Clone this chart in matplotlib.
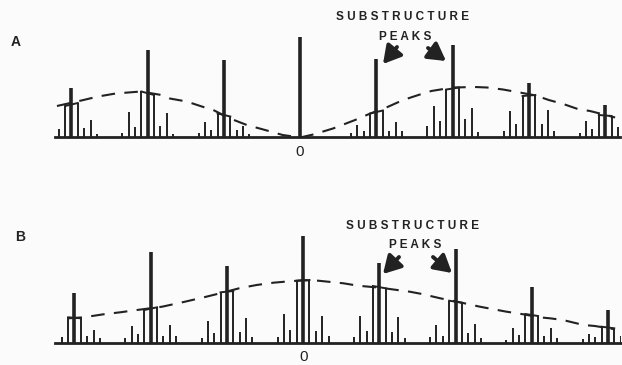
import numpy as np
import matplotlib
matplotlib.use("Agg")
import matplotlib.pyplot as plt

# diffraction orders (main reflections) and satellite index m (reflection at order + m/12)
orders = [-3, -2, -1, 0, 1, 2, 3, 4]
sat_index = [-4, -3, -2, -1, 0, 1, 2, 3, 4]

# intensities, one row per order, columns follow sat_index (0 = not drawn)
intens_a = [
    [0, 0, 8.5, 31.5, 49, 34.5, 9.5, 17, 3.5],
    [4.5, 25, 10, 46, 87.5, 42.5, 11.5, 24.5, 3.5],
    [4.5, 15, 7, 24, 77.5, 21, 7.5, 11, 3.5],
    [0, 0, 0, 0, 101, 0, 0, 0, 0],
    [4, 12.5, 6.5, 24, 79, 27, 6.5, 15, 6],
    [11, 31.5, 16, 48, 93, 50, 18, 29, 5],
    [6, 26.5, 13, 41.5, 55, 42.5, 13.5, 27.5, 6],
    [4, 16, 8.5, 22.5, 32.5, 21.5, 10, 0, 0],
]
intens_b = [
    [0, 0, 6.6, 26, 50.6, 25, 7.3, 13.3, 5],
    [5, 17.3, 9.3, 33.3, 91.6, 36, 7.3, 18.3, 7.3],
    [5, 22.6, 10, 51, 77.3, 52.3, 11.6, 25, 6],
    [6.6, 29.3, 13.3, 62.6, 107.3, 63.3, 12.6, 27.6, 7.3],
    [6.6, 27.3, 12.6, 57.3, 80.6, 55, 11.6, 26, 5],
    [6, 18.3, 7.3, 42.6, 94.3, 40.6, 10.6, 19.3, 5],
    [3.3, 15.6, 8.3, 29.3, 56, 27.3, 7.3, 15, 5],
    [4, 9.3, 6, 16.6, 33.3, 15, 7.3, 0, 0],
]

# dashed envelope (substructure transform)
env_a_x = [-3.19, -2.87, -2.65, -2.42, -2.09, -1.82, -1.71, -1.49, -1.25, -1.14, -0.92,
           -0.70, -0.46, -0.23, 0.0, 0.17, 0.43, 0.72, 0.92, 1.13, 1.35, 1.59, 1.72,
           2.0, 2.29, 2.45, 2.66, 2.88, 3.09, 3.26, 3.45, 3.64, 3.80, 3.93, 4.13]
env_a_y = [31.5, 37, 41, 44, 46, 42.5, 39, 36, 30, 27.5, 19,
           12.5, 7.5, 2.5, 0, 3, 9, 17.5, 24, 30, 37.5, 43.5, 46.5,
           50, 50.5, 50, 48, 45, 42, 37.5, 33.5, 28.5, 26.5, 24, 20]
env_b_x = [-3.08, -2.88, -2.62, -2.40, -2.18, -1.85, -1.55, -1.27, -1.09, -0.84, -0.61,
           -0.39, -0.24, 0.0, 0.20, 0.53, 0.72, 1.02, 1.40, 1.56, 1.80, 2.01, 2.32,
           2.67, 2.89, 3.10, 3.24, 3.41, 3.68, 3.83, 4.09]
env_b_y = [25, 26, 29, 31, 33.3, 36.6, 41.6, 46.6, 50, 55, 58.3,
           60.6, 61.6, 63, 62.6, 60, 57.6, 55.5, 51.6, 49.3, 45, 41.8, 36.6,
           31.6, 29, 26, 25, 23.3, 18.3, 17.3, 14]

INK = "#222222"
W, H = 622, 365


def fp(x, y):
    # pixel position (from top-left) -> figure fraction
    return x / W, 1 - y / H


def draw_panel(ax, intens, env_x, env_y, xlim):
    for k, row in zip(orders, intens):
        for m, v in zip(sat_index, row):
            if v <= 0:
                continue
            x = k + m / 12
            if m == 0:
                ax.vlines(x, -2, v, color=INK, lw=2.6)
            else:
                ax.vlines(x, 0, v, color=INK, lw=1.4)
        # bar joining the two neighbouring satellites
        left, right = row[3], row[5]
        if left > 0 and right > 0:
            ax.plot([k - 1 / 12, k + 1 / 12], [left, right], color=INK, lw=1.4)
    ax.plot(env_x, env_y, color=INK, lw=1.5, dashes=(6.5, 4.5))
    ax.set_xlim(*xlim)
    ax.set_ylim(0, 110)
    for s in ["top", "left", "right"]:
        ax.spines[s].set_visible(False)
    ax.spines["bottom"].set_linewidth(2.0)
    ax.spines["bottom"].set_color(INK)
    ax.set_xticks([])
    ax.set_yticks([])
    ax.patch.set_alpha(0)


fig = plt.figure(figsize=(6.22, 3.65), dpi=100)
fig.patch.set_facecolor("#fbfbfb")

# panel A: baseline at y=137.5 px, axis 55..620 px, order spacing 76.25 px
ax_a = fig.add_axes([55 / W, (H - 137.5) / H, 565 / W, 110 / H])
draw_panel(ax_a, intens_a, env_a_x, env_a_y, ((55 - 300.2) / 76.25, (620 - 300.2) / 76.25))

# panel B: baseline at y=343.3 px, axis 55..621 px
ax_b = fig.add_axes([55 / W, (H - 343.3) / H, 566 / W, 110 / H])
draw_panel(ax_b, intens_b, env_b_x, env_b_y, ((55 - 303.1) / 76.2, (621 - 303.1) / 76.2))

font = "Liberation Sans"
fig.text(*fp(300, 152), "0", ha="center", va="center", fontsize=11, family=font, color=INK)
fig.text(*fp(304, 357), "0", ha="center", va="center", fontsize=11, family=font, color=INK)
fig.text(*fp(16, 42), "A", ha="center", va="center", fontsize=10, weight="heavy", family=font, color=INK)
fig.text(*fp(20, 237), "B", ha="center", va="center", fontsize=10, weight="heavy", family=font, color=INK)

label1 = " ".join("SUBSTRUCTURE")
label2 = " ".join("PEAKS")
for cx, y1, y2 in [(403, 17, 37), (413, 226, 245)]:
    fig.text(*fp(cx, y1), label1, ha="center", va="center", fontsize=8.5,
             weight="bold", family=font, color=INK)
    fig.text(*fp(cx + 2, y2), label2, ha="center", va="center", fontsize=8.5,
             weight="bold", family=font, color=INK)

arrows = [((397, 47), (383, 64)), ((428, 48), (446, 61)),
          ((399, 257), (383, 274)), ((433, 257), (452, 273))]
for start, tip in arrows:
    fig.add_artist(matplotlib.patches.FancyArrowPatch(
        fp(*start), fp(*tip), transform=fig.transFigure,
        arrowstyle="-|>,head_length=0.7,head_width=0.4", mutation_scale=15,
        lw=2.8, color=INK, shrinkA=0, shrinkB=0))

fig.savefig("out.png", dpi=100, facecolor=fig.get_facecolor())
